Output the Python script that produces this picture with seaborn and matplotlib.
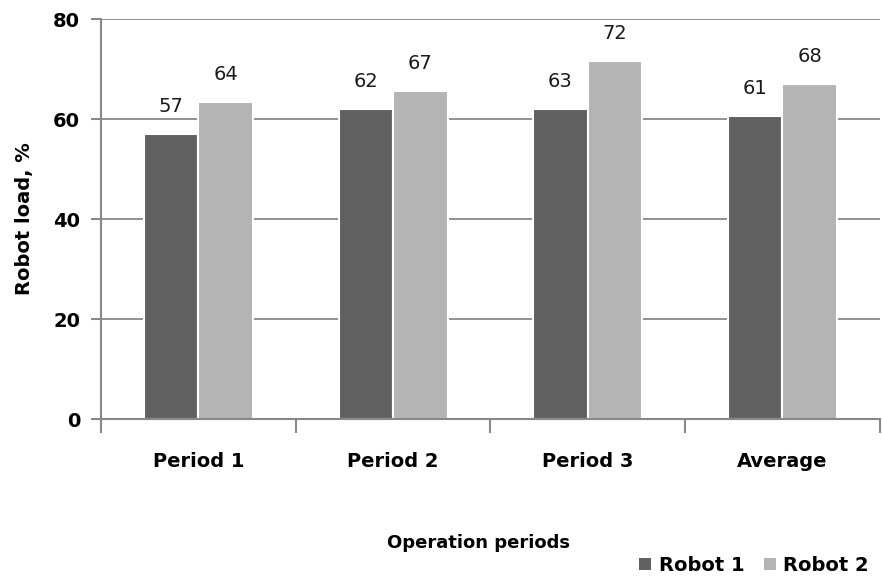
import numpy as np
import matplotlib.pyplot as plt
import seaborn as sns
import pandas as pd
from matplotlib.patches import Patch

# Data
periods = ['Period 1', 'Period 2', 'Period 3', 'Average']
robot1 = [57.0, 62.0, 62.0, 60.6]
robot2 = [63.4, 65.7, 71.6, 67.0]
robot1_labels = ['57', '62', '63', '61']
robot2_labels = ['64', '67', '72', '68']
yticks = [0, 20, 40, 60, 80]

df = pd.DataFrame({
    'period': periods * 2,
    'robot': ['Robot 1'] * 4 + ['Robot 2'] * 4,
    'load': robot1 + robot2,
})

sns.set_style('white')
plt.rcParams['font.family'] = ['DejaVu Sans']

colors = ['#606060', '#b4b4b4']
fig = plt.figure(figsize=(8.82, 5.78), dpi=100)
ax = fig.add_axes([0.1145, 0.275, 0.883, 0.692])

sns.barplot(data=df, x='period', y='load', hue='robot', palette=colors,
            width=0.56, edgecolor='white', linewidth=1.5, ax=ax, legend=False)

# value labels
for cont, labs in zip(ax.containers, [robot1_labels, robot2_labels]):
    ax.bar_label(cont, labels=labs, padding=13, fontsize=14, color='#1a1a1a')

ax.set_ylim(0, 80)
ax.set_xlim(-0.5, 3.5)
ax.set_yticks(yticks)
ax.set_yticklabels([str(v) for v in yticks], fontsize=14, fontweight='bold',
                   color='black')
ax.yaxis.grid(True, color='#888888', linewidth=1.3)
ax.set_axisbelow(True)

# category boundary ticks on x axis
ax.set_xticks(np.arange(-0.5, 4, 1), minor=True)
ax.set_xticks(range(len(periods)))
ax.set_xticklabels(periods, fontsize=14, fontweight='bold', color='black')
ax.tick_params(axis='x', which='major', bottom=False, length=0, pad=24)
ax.tick_params(axis='x', which='minor', bottom=True, length=10, width=1.5,
               color='#888888', direction='out')
ax.tick_params(axis='y', left=True, length=7, width=1.5, color='#888888',
               direction='out', pad=8)

for side in ['top', 'right']:
    ax.spines[side].set_visible(False)
for side in ['left', 'bottom']:
    ax.spines[side].set_color('#888888')
    ax.spines[side].set_linewidth(1.5)

ax.set_ylabel('Robot load, %', fontsize=14, fontweight='bold', labelpad=14,
              color='black')
ax.set_xlabel('')
fig.text(0.542, 0.06, 'Operation periods', fontsize=13, fontweight='bold',
         ha='center', va='center', color='black')

handles = [Patch(facecolor=c, edgecolor='none') for c in colors]
fig.legend(handles, ['Robot 1', 'Robot 2'], loc='center right',
           bbox_to_anchor=(1.005, 0.022), ncol=2, frameon=False,
           prop={'size': 14, 'weight': 'bold'}, handlelength=0.6,
           handleheight=0.6, handletextpad=0.4, columnspacing=1.0)
for t in fig.legends[0].get_texts():
    t.set_color('black')

fig.savefig('out.png', dpi=100)
